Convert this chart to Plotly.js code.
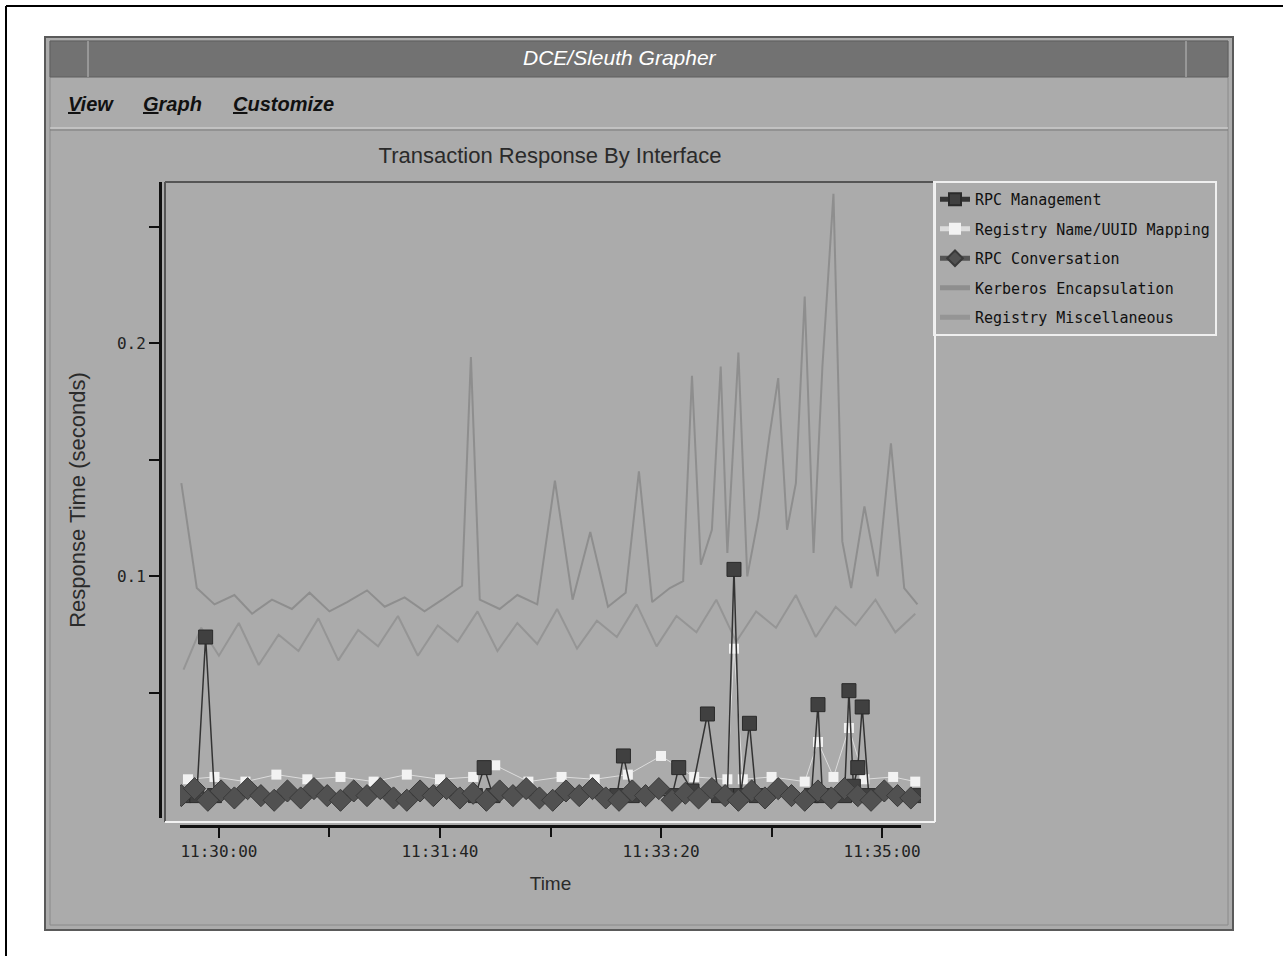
<!DOCTYPE html>
<html>
<head>
<meta charset="utf-8">
<script src="https://cdn.plot.ly/plotly-3.0.1.min.js"></script>
<style>html,body{margin:0;padding:0;background:#fff;}#chart{width:1283px;height:956px;}</style>
</head>
<body>
<div id="chart"></div>
<script>
// ---------------- data ----------------
const DAY = '2000-01-01 ';

const mgmtTimes = ['11:29:44','11:29:50','11:29:54','11:29:58','11:31:56','11:32:00','11:32:04','11:33:00','11:33:03','11:33:07',
  '11:33:25','11:33:28','11:33:34','11:33:41','11:33:46','11:33:50','11:33:53','11:33:56','11:34:00','11:34:03',
  '11:34:28','11:34:31','11:34:33','11:34:43','11:34:45','11:34:47','11:34:49','11:34:51','11:34:54','11:35:16'];
const mgmtValues = [0.006,0.006,0.074,0.006,0.006,0.018,0.006,0.006,0.023,0.006,
  0.006,0.018,0.008,0.041,0.006,0.006,0.103,0.006,0.037,0.006,
  0.006,0.045,0.006,0.006,0.051,0.010,0.018,0.044,0.006,0.006];

const regNameTimes = ['11:29:46','11:29:58','11:30:12','11:30:26','11:30:40','11:30:55','11:31:10','11:31:25','11:31:40','11:31:55',
  '11:32:05','11:32:20','11:32:35','11:32:50','11:33:05','11:33:20','11:33:35','11:33:50','11:33:53','11:33:57',
  '11:34:10','11:34:25','11:34:31','11:34:38','11:34:45','11:34:52','11:35:05','11:35:15'];
const regNameValues = [0.013,0.014,0.012,0.015,0.013,0.014,0.012,0.015,0.013,0.014,
  0.019,0.012,0.014,0.013,0.015,0.023,0.014,0.013,0.069,0.013,
  0.014,0.012,0.029,0.014,0.035,0.013,0.014,0.012];

const convTimes = ['11:29:43','11:29:49','11:29:55','11:30:01','11:30:07','11:30:13','11:30:19','11:30:25','11:30:31','11:30:37',
  '11:30:43','11:30:49','11:30:55','11:31:01','11:31:07','11:31:13','11:31:19','11:31:25','11:31:31','11:31:37',
  '11:31:43','11:31:49','11:31:55','11:32:01','11:32:07','11:32:13','11:32:19','11:32:25','11:32:31','11:32:37',
  '11:32:43','11:32:49','11:32:55','11:33:01','11:33:07','11:33:13','11:33:19','11:33:25','11:33:31','11:33:37',
  '11:33:43','11:33:49','11:33:55','11:34:01','11:34:07','11:34:13','11:34:19','11:34:25','11:34:31','11:34:37',
  '11:34:43','11:34:49','11:34:55','11:35:01','11:35:07','11:35:13'];
const convValues = [0.006,0.009,0.004,0.008,0.005,0.009,0.006,0.004,0.008,0.005,
  0.009,0.006,0.004,0.008,0.006,0.009,0.005,0.004,0.008,0.006,
  0.009,0.005,0.007,0.004,0.008,0.006,0.009,0.005,0.004,0.008,
  0.006,0.009,0.005,0.004,0.008,0.006,0.009,0.004,0.007,0.005,
  0.009,0.006,0.004,0.008,0.005,0.009,0.006,0.004,0.008,0.005,
  0.009,0.006,0.004,0.008,0.006,0.005];

const kerbTimes = ['11:29:43','11:29:50','11:29:58','11:30:07','11:30:15','11:30:24','11:30:33','11:30:41','11:30:50','11:30:58',
  '11:31:07','11:31:15','11:31:24','11:31:33','11:31:41','11:31:50','11:31:54','11:31:58','11:32:07','11:32:15',
  '11:32:24','11:32:32','11:32:40','11:32:48','11:32:56','11:33:04','11:33:10','11:33:16','11:33:24','11:33:30',
  '11:33:34','11:33:38','11:33:43','11:33:47','11:33:50','11:33:55','11:33:59','11:34:04','11:34:09','11:34:13',
  '11:34:17','11:34:21','11:34:25','11:34:29','11:34:33','11:34:38','11:34:42','11:34:46','11:34:52','11:34:58',
  '11:35:04','11:35:10','11:35:16'];
const kerbValues = [0.140,0.095,0.088,0.092,0.084,0.090,0.086,0.093,0.085,0.089,
  0.094,0.087,0.091,0.085,0.090,0.096,0.194,0.090,0.086,0.092,
  0.088,0.141,0.090,0.119,0.087,0.093,0.145,0.089,0.095,0.098,
  0.186,0.105,0.120,0.190,0.110,0.196,0.100,0.125,0.160,0.185,
  0.120,0.140,0.220,0.110,0.190,0.264,0.115,0.095,0.130,0.100,
  0.157,0.095,0.088];

const miscTimes = ['11:29:44','11:29:52','11:30:00','11:30:09','11:30:18','11:30:27','11:30:36','11:30:45','11:30:54','11:31:03',
  '11:31:12','11:31:21','11:31:30','11:31:39','11:31:48','11:31:57','11:32:06','11:32:15','11:32:24','11:32:33',
  '11:32:42','11:32:51','11:33:00','11:33:09','11:33:18','11:33:27','11:33:36','11:33:45','11:33:54','11:34:03',
  '11:34:12','11:34:21','11:34:30','11:34:39','11:34:48','11:34:57','11:35:06','11:35:15'];
const miscValues = [0.060,0.078,0.066,0.080,0.062,0.075,0.068,0.082,0.064,0.077,
  0.070,0.083,0.066,0.079,0.072,0.085,0.068,0.080,0.071,0.086,
  0.069,0.081,0.074,0.088,0.070,0.083,0.076,0.090,0.072,0.085,
  0.078,0.092,0.074,0.087,0.079,0.090,0.076,0.084];

const yTickVals = [0.05, 0.1, 0.15, 0.2, 0.25];
const yTickText = ['', '0.1', '', '0.2', ''];

const seriesNames = ['RPC Management','Registry Name/UUID Mapping','RPC Conversation','Kerberos Encapsulation','Registry Miscellaneous'];

// ---------------- helpers (layout only) ----------------
const PL = 160, PR = 933, PT = 182, PB = 826;
const fx = p => (p - PL) / (PR - PL);
const fy = p => (PB - p) / (PB - PT);
const ts = arr => arr.map(t => DAY + t);

const BG = '#ababab';
const MONO = 'DejaVu Sans Mono, monospace';
const SANS = 'Liberation Sans, Arial, sans-serif';

const traces = [
  {name: seriesNames[4], x: ts(miscTimes), y: miscValues, type: 'scatter', mode: 'lines',
   line: {color: '#959595', width: 2}, legendrank: 5, legendgroup: 'g5'},
  {name: seriesNames[3], x: ts(kerbTimes), y: kerbValues, type: 'scatter', mode: 'lines',
   line: {color: '#8e8e8e', width: 2}, legendrank: 4, legendgroup: 'g4'},
  {name: seriesNames[1], x: ts(regNameTimes), y: regNameValues, type: 'scatter', mode: 'lines+markers',
   line: {color: '#dcdcdc', width: 1}, marker: {symbol: 'square', size: 10, color: '#f2f2f2'},
   legendrank: 2, legendgroup: 'g2'},
  {name: seriesNames[0], x: ts(mgmtTimes), y: mgmtValues, type: 'scatter', mode: 'lines+markers',
   line: {color: '#333333', width: 1.5}, marker: {symbol: 'square', size: 14, color: '#404040', line: {color: '#2a2a2a', width: 1}},
   legendrank: 1, legendgroup: 'g1'},
  {name: seriesNames[2], x: ts(convTimes), y: convValues, type: 'scatter', mode: 'lines+markers',
   line: {color: '#555555', width: 1}, marker: {symbol: 'diamond', size: 17, color: '#515151', line: {color: '#3a3a3a', width: 1}},
   legendrank: 3, legendgroup: 'g3'}
];

const shapes = [
  // page frame
  {type: 'line', xref: 'paper', yref: 'paper', x0: fx(6), x1: fx(1283), y0: fy(6), y1: fy(6), line: {color: '#000', width: 2}, layer: 'below'},
  {type: 'line', xref: 'paper', yref: 'paper', x0: fx(6), x1: fx(6), y0: fy(6), y1: fy(956), line: {color: '#000', width: 2}, layer: 'below'},
  // window
  {type: 'rect', xref: 'paper', yref: 'paper', x0: fx(45), x1: fx(1233), y0: fy(37), y1: fy(930), fillcolor: BG, line: {color: '#5a5a5a', width: 2}, layer: 'below'},
  // inner window frame
  {type: 'rect', xref: 'paper', yref: 'paper', x0: fx(50), x1: fx(1228), y0: fy(41), y1: fy(925), fillcolor: 'rgba(0,0,0,0)', line: {color: '#8a8a8a', width: 1}, layer: 'below'},
  // title bar
  {type: 'rect', xref: 'paper', yref: 'paper', x0: fx(50), x1: fx(1228), y0: fy(41), y1: fy(77), fillcolor: '#727272', line: {color: '#5e5e5e', width: 1}, layer: 'below'},
  {type: 'line', xref: 'paper', yref: 'paper', x0: fx(88), x1: fx(88), y0: fy(41), y1: fy(77), line: {color: '#bdbdbd', width: 1}, layer: 'below'},
  {type: 'line', xref: 'paper', yref: 'paper', x0: fx(1186), x1: fx(1186), y0: fy(41), y1: fy(77), line: {color: '#bdbdbd', width: 1}, layer: 'below'},
  // menu separator
  {type: 'line', xref: 'paper', yref: 'paper', x0: fx(50), x1: fx(1228), y0: fy(128), y1: fy(128), line: {color: '#d8d8d8', width: 1}, layer: 'below'},
  {type: 'line', xref: 'paper', yref: 'paper', x0: fx(50), x1: fx(1228), y0: fy(130), y1: fy(130), line: {color: '#7a7a7a', width: 1}, layer: 'below'},
  // plot frame: dark top/left, light right/bottom
  {type: 'line', xref: 'paper', yref: 'paper', x0: fx(165), x1: fx(935), y0: fy(182), y1: fy(182), line: {color: '#555', width: 2}, layer: 'below'},
  {type: 'line', xref: 'paper', yref: 'paper', x0: fx(165), x1: fx(165), y0: fy(182), y1: fy(822), line: {color: '#555', width: 2}, layer: 'below'},
  {type: 'line', xref: 'paper', yref: 'paper', x0: fx(935), x1: fx(935), y0: fy(182), y1: fy(822), line: {color: '#f2f2f2', width: 2}, layer: 'below'},
  {type: 'line', xref: 'paper', yref: 'paper', x0: fx(165), x1: fx(935), y0: fy(822), y1: fy(822), line: {color: '#f2f2f2', width: 2}, layer: 'below'}
];

const annotations = [
  {text: 'DCE/Sleuth Grapher', xref: 'paper', yref: 'paper', x: fx(620), y: fy(58), xanchor: 'center', yanchor: 'middle', showarrow: false,
   font: {family: SANS, size: 21, color: '#ffffff', style: 'italic'}},
  {text: '<b><i><u>V</u>iew</i></b>', xref: 'paper', yref: 'paper', x: fx(66), y: fy(104), xanchor: 'left', yanchor: 'middle', showarrow: false,
   font: {family: SANS, size: 20, color: '#111'}},
  {text: '<b><i><u>G</u>raph</i></b>', xref: 'paper', yref: 'paper', x: fx(141), y: fy(104), xanchor: 'left', yanchor: 'middle', showarrow: false,
   font: {family: SANS, size: 20, color: '#111'}},
  {text: '<b><i><u>C</u>ustomize</i></b>', xref: 'paper', yref: 'paper', x: fx(231), y: fy(104), xanchor: 'left', yanchor: 'middle', showarrow: false,
   font: {family: SANS, size: 20, color: '#111'}}
];

const axisFont = {family: MONO, size: 16, color: '#222'};

const layout = {
  width: 1283, height: 956, autosize: false,
  margin: {l: PL, r: 1283 - PR, t: PT, b: 956 - PB, pad: 0},
  paper_bgcolor: '#ffffff',
  plot_bgcolor: 'rgba(0,0,0,0)',
  title: {text: 'Transaction Response By Interface', x: 550 / 1283, xanchor: 'center', xref: 'container',
          y: 1 - 155 / 956, yanchor: 'middle', yref: 'container', font: {family: SANS, size: 22, color: '#2a2a2a'}},
  showlegend: true,
  legend: {x: fx(933), y: fy(181), xanchor: 'left', yanchor: 'top', bgcolor: 'rgba(0,0,0,0)',
           bordercolor: '#efefef', borderwidth: 2, font: {family: MONO, size: 15, color: '#111'},
           tracegroupgap: 7, traceorder: 'grouped', itemsizing: 'constant'},
  xaxis: {type: 'date', domain: [fx(180), fx(921)], anchor: 'free', position: 0,
          range: [DAY + '11:29:42.4', DAY + '11:35:17.6'],
          tick0: DAY + '11:30:00', dtick: 100000, tickformat: '%H:%M:%S',
          ticks: 'outside', ticklen: 10, tickwidth: 2, tickcolor: '#111',
          minor: {dtick: 50000, tick0: DAY + '11:30:00', ticks: 'outside', ticklen: 9, tickwidth: 2, tickcolor: '#111', showgrid: false},
          showline: true, linecolor: '#111', linewidth: 3, showgrid: false, zeroline: false,
          tickfont: axisFont,
          title: {text: 'Time', font: {family: SANS, size: 19, color: '#2a2a2a'}, standoff: 16}},
  yaxis: {domain: [fy(818), 1], anchor: 'free', position: 0,
          range: [-0.0036, 0.2691],
          tickmode: 'array', tickvals: yTickVals, ticktext: yTickText,
          ticks: 'outside', ticklen: 10, tickwidth: 2, tickcolor: '#111',
          showline: true, linecolor: '#111', linewidth: 3, showgrid: false, zeroline: false,
          tickfont: axisFont,
          title: {text: 'Response Time (seconds)', font: {family: SANS, size: 22, color: '#2a2a2a'}, standoff: 24}},
  shapes: shapes,
  annotations: annotations
};

Plotly.newPlot('chart', traces, layout, {displayModeBar: false, staticPlot: true});
</script>
</body>
</html>
